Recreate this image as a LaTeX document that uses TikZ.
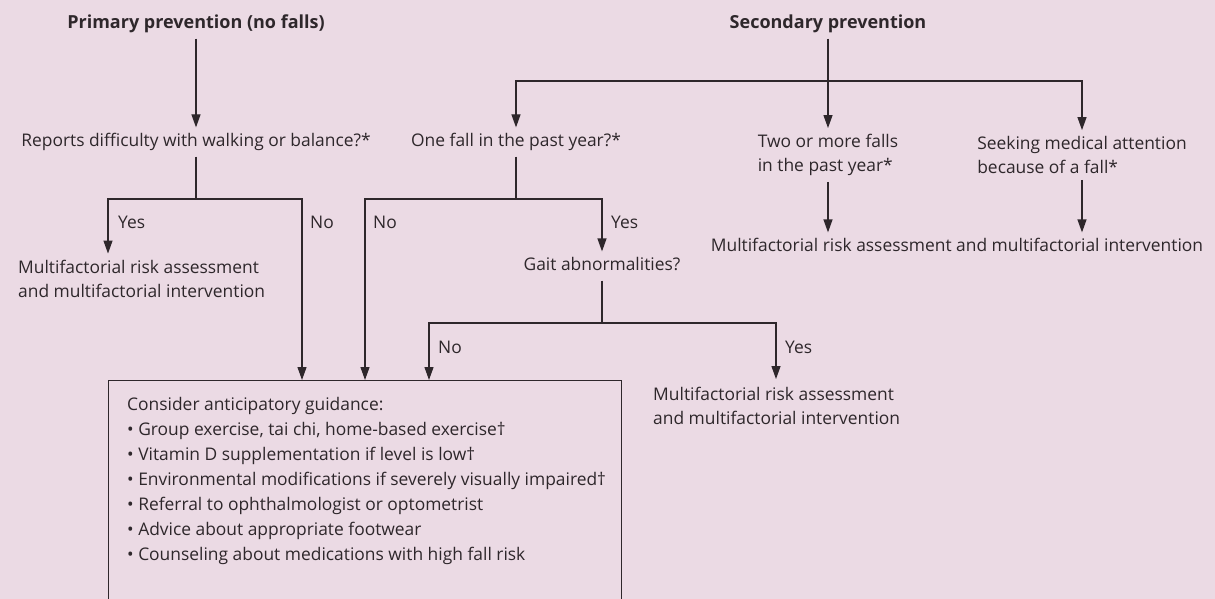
\documentclass[tikz,border=0pt]{standalone}
\usepackage{fontspec}
\setmainfont{Open Sans}
\usetikzlibrary{arrows.meta}
\definecolor{bg}{HTML}{EBDAE4}
\definecolor{ink}{HTML}{2E272B}
\begin{document}
\begin{tikzpicture}[x=1pt,y=-1pt,
  every node/.style={text=ink},
  txt/.style={inner xsep=0pt, inner ysep=6pt, font=\fontsize{17.4}{24}\selectfont},
  one/.style={txt, text height=12.8pt, text depth=4pt},
  multi/.style={txt, align=left},
  head/.style={one, font=\fontsize{18}{24}\selectfont\bfseries},
  lbl/.style={one, anchor=west},
  ln/.style={draw=ink, line width=1.2pt},
  arr/.style={ln, -{Triangle[length=13pt,width=9pt]}}]
\fill[bg] (0,0) rectangle (1215,599);
\useasboundingbox (0,0) rectangle (1215,599);

% headings
\node[head] (prim) at (196,24) {Primary prevention (no falls)};
\node[head] (sec) at (828,24) {Secondary prevention};

% questions
\node[one] (rep) at (196,142) {Reports difficulty with walking or balance?*};
\node[one] (onef) at (516,142) {One fall in the past year?*};
\node[multi] (two) at (828,155) {Two or more falls\\in the past year*};
\node[multi] (seek) at (1082,155) {Seeking medical attention\\because of a fall*};
\node[one] (mf3) at (957,247) {Multifactorial risk assessment and multifactorial intervention};
\node[multi, anchor=west] (mf1) at (18,278.5) {Multifactorial risk assessment\\and multifactorial intervention};
\node[one] (gait) at (602,266) {Gait abnormalities?};
\node[multi, anchor=west] (mf2) at (653,406) {Multifactorial risk assessment\\and multifactorial intervention};

% guidance box
\begin{scope}
\clip (0,0) rectangle (1215,599);
\node[draw=ink, line width=1.2pt, minimum width=513pt, minimum height=260pt,
      anchor=north west, inner sep=0pt] (box) at (108,380) {};
\end{scope}
\node[anchor=north west, inner sep=0pt, align=left, font=\fontsize{17.4}{25}\selectfont] (guide) at (127,397)
 {Consider anticipatory guidance:\\
  • Group exercise, tai chi, home-based exercise†\\
  • Vitamin D supplementation if level is low†\\
  • Environmental modifications if severely visually impaired†\\
  • Referral to ophthalmologist or optometrist\\
  • Advice about appropriate footwear\\
  • Counseling about medications with high fall risk};

% junctions
\coordinate (sj) at (828,81);
\coordinate (rj) at (196,199);
\coordinate (oj) at (516,199);
\coordinate (gj) at (602,323);

% primary branch
\draw[arr] (prim) -- (rep);
\draw[ln] (rep) -- (rj);
\draw[arr] (rj) -| ([xshift=90pt]mf1.north west);
\draw[arr] (rj) -| ([xshift=194pt]box.north west);

% secondary branch
\draw[arr] (sec) -- (two);
\draw[arr] (sj) -| (onef);
\draw[arr] (sj) -| (seek);
\draw[arr] (two) -- (two |- mf3.north);
\draw[arr] (seek) -- (seek |- mf3.north);

% one fall
\draw[ln] (onef) -- (oj);
\draw[arr] (oj) -| ([xshift=257pt]box.north west);
\draw[arr] (oj) -| (gait);

% gait
\draw[ln] (gait) -- (gj);
\draw[arr] (gj) -| ([xshift=321pt]box.north west);
\draw[arr] (gj) -| ([xshift=123pt,yshift=2pt]mf2.north west);

% labels
\node[lbl] (l1) at (118,224) {Yes};
\node[lbl] (l2) at (310,224) {No};
\node[lbl] (l3) at (373,224) {No};
\node[lbl] (l4) at (611,224) {Yes};
\node[lbl] (l5) at (438,349) {No};
\node[lbl] (l6) at (785,349) {Yes};
\end{tikzpicture}
\end{document}
